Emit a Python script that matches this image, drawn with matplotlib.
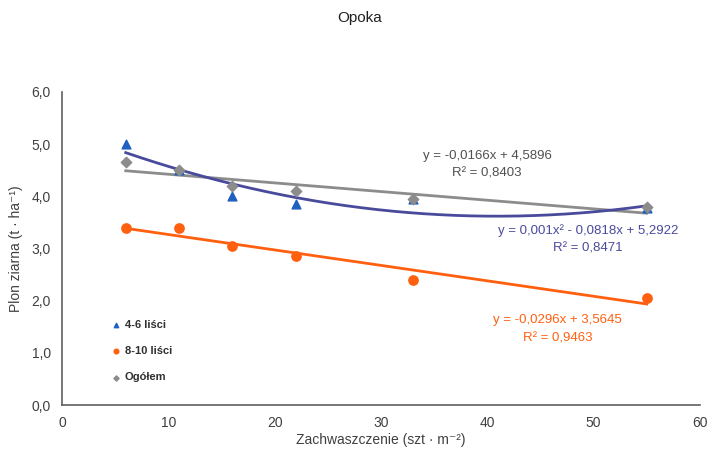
import numpy as np
import matplotlib.pyplot as plt

plt.rcParams['font.family'] = ['Liberation Sans', 'DejaVu Sans']

x = [6, 11, 16, 22, 33, 55]
liscie_4_6 = [5.0, 4.5, 4.0, 3.85, 3.95, 3.78]
liscie_8_10 = [3.4, 3.4, 3.05, 2.85, 2.4, 2.05]
ogolem = [4.65, 4.5, 4.2, 4.1, 3.95, 3.8]

# trend line coefficients as printed on the chart
coef_4_6 = [0.001, -0.0818, 5.2922]
coef_8_10 = [-0.0296, 3.5645]
coef_ogolem = [-0.0166, 4.5896]

blue = '#2060c0'
blue_line = '#4a4a9c'
orange = '#ff6010'
gray = '#8c8c8c'

fig = plt.figure(figsize=(7.12, 4.59), dpi=100)
ax = fig.add_axes([0.087, 0.1176, 0.896, 0.682])

xs = np.linspace(6, 55, 200)
ax.plot(xs, np.polyval(coef_ogolem, xs), color=gray, lw=2, zorder=2)
ax.plot(xs, np.polyval(coef_4_6, xs), color=blue_line, lw=2, zorder=2)
ax.plot(xs, np.polyval(coef_8_10, xs), color=orange, lw=2, zorder=2)

ax.scatter(x, liscie_4_6, marker='^', color=blue, s=40, zorder=3, label='4-6 liści')
ax.scatter(x, liscie_8_10, marker='o', color=orange, s=45, zorder=3, label='8-10 liści')
ax.scatter(x, ogolem, marker='D', color=gray, s=28, zorder=3, label='Ogółem')

ax.set_xlim(0, 60)
ax.set_ylim(0, 6)
ax.set_xticks(range(0, 61, 10))
ax.set_yticks(np.arange(0, 6.1, 1))
ax.set_yticklabels([f'{v:.1f}'.replace('.', ',') for v in np.arange(0, 6.1, 1)])
ax.tick_params(length=0, labelsize=10, colors='#404040', pad=8)
for s in ['top', 'right']:
    ax.spines[s].set_visible(False)
for s in ['left', 'bottom']:
    ax.spines[s].set_color('#606060')
    ax.spines[s].set_linewidth(1.2)

ax.set_xlabel('Zachwaszczenie (szt · m⁻²)', fontsize=10, color='#404040', labelpad=2)
ax.set_ylabel('Plon ziarna (t · ha⁻¹)', fontsize=10, color='#404040', labelpad=6)
fig.suptitle('Opoka', x=0.505, y=0.975, fontsize=11, color='#202020')

ax.text(40, 4.6, 'y = -0,0166x + 4,5896\nR² = 0,8403', color='#505050',
        fontsize=9.5, ha='center', va='center', linespacing=1.65)
ax.text(49.5, 3.17, 'y = 0,001x² - 0,0818x + 5,2922\nR² = 0,8471', color=blue_line,
        fontsize=9.5, ha='center', va='center', linespacing=1.65)
ax.text(46.6, 1.45, 'y = -0,0296x + 3,5645\nR² = 0,9463', color=orange,
        fontsize=9.5, ha='center', va='center', linespacing=1.65)

leg = ax.legend(loc='upper left', bbox_to_anchor=(0.06, 0.285), frameon=False,
                fontsize=8, handletextpad=-0.2, labelspacing=1.45, markerscale=0.5,
                borderaxespad=0)
for t in leg.get_texts():
    t.set_color('#303030')
    t.set_fontweight('bold')

fig.savefig('out.png', dpi=100)
